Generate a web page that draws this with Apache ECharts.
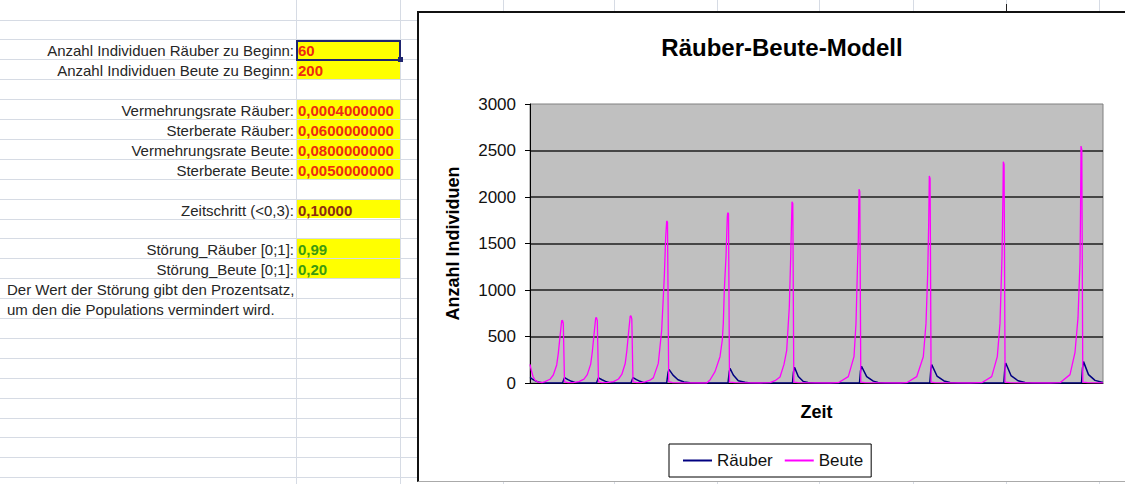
<!DOCTYPE html>
<html>
<head>
<meta charset="utf-8">
<script src="https://cdn.jsdelivr.net/npm/echarts@6/dist/echarts.min.js"></script>
<style>
  html, body { margin: 0; padding: 0; background: #fff; }
  body { width: 1125px; height: 484px; position: relative; overflow: hidden;
         font-family: 'Liberation Sans', Arial, sans-serif; }
  .hl { position: absolute; left: 0; width: 1125px; height: 1px; background: #d6dbe4; }
  .vl { position: absolute; top: 0; width: 1px; height: 484px; background: #d6dbe4; }
  .cell-y { position: absolute; left: 297px; width: 103px; background: #ffff00; }
  .lab { position: absolute; left: 0; width: 294px; text-align: right; font-size: 15px;
         color: #262626; white-space: nowrap; }
  .val { position: absolute; left: 298px; font-size: 15px; font-weight: bold; white-space: nowrap; }
  .note { position: absolute; left: 7px; font-size: 15px; color: #262626; white-space: nowrap; }
  #frame { position: absolute; left: 417px; top: 11px; width: 708px; height: 471px;
           box-sizing: border-box; background: #fff;
           border-left: 2px solid #111; border-top: 2px solid #111; border-bottom: 1px solid #aaa; }
  #chart { position: absolute; left: 419px; top: 13px; width: 706px; height: 469px; }
</style>
</head>
<body>
<div id="sheet"></div>
<div id="frame"></div>
<div id="chart"></div>
<script>
// ---- Spreadsheet inputs (left part) ----
const RED = '#ee2a10', BROWN = '#8b2a10', GREEN = '#3c9a0e';
const inputRows   = [2, 3, 5, 6, 7, 8, 10, 12, 13];
const inputLabels = ['Anzahl Individuen Räuber zu Beginn:', 'Anzahl Individuen Beute zu Beginn:',
  'Vermehrungsrate Räuber:', 'Sterberate Räuber:', 'Vermehrungsrate Beute:', 'Sterberate Beute:',
  'Zeitschritt (<0,3):', 'Störung_Räuber [0;1]:', 'Störung_Beute [0;1]:'];
const inputValues = ['60', '200', '0,0004000000', '0,0600000000', '0,0800000000', '0,0050000000',
  '0,10000', '0,99', '0,20'];
const inputColors = [RED, RED, RED, RED, RED, RED, BROWN, GREEN, GREEN];
const noteRows  = [14, 15];
const noteLines = ['Der Wert der Störung gibt den Prozentsatz,', 'um den die Populations vermindert wird.'];

// ---- Chart data: [Zeit, Anzahl] ----
const raeuber = [
  [0, 60], [0.4, 45], [1.0, 25], [1.6, 12], [2.4, 4], [3.2, 1],
  [6.5, 1], [6.7, 30], [6.9, 57], [7.6, 36], [8.3, 18], [9.0, 6], [10, 1],
  [13.3, 1], [13.5, 30], [13.7, 55], [14.4, 35], [15.1, 17], [15.8, 5], [16.8, 1],
  [20.2, 1], [20.4, 30], [20.6, 58], [21.3, 37], [22.0, 18], [22.7, 5], [23.7, 1],
  [27.34, 1], [27.6, 110], [27.8, 147], [28.6, 85], [29.6, 35], [30.8, 10], [32, 3], [34, 1],
  [39.6, 1], [39.85, 120], [40.0, 158], [40.66, 86], [41.66, 25], [43, 7], [44, 1],
  [52.5, 1], [52.7, 120], [52.9, 170], [53.66, 69], [54.66, 16], [55.6, 5], [57, 1],
  [65.9, 1], [66.1, 130], [66.3, 180], [67.34, 68], [68.66, 20], [69.6, 5], [71, 1],
  [79.96, 1], [80.16, 140], [80.34, 197], [81.4, 75], [82.8, 22], [84, 5], [85.5, 1],
  [94.76, 1], [94.96, 150], [95.14, 215], [96.2, 80], [97.6, 24], [99, 5], [100.5, 1],
  [110.3, 1], [110.5, 160], [110.7, 230], [111.7, 90], [113, 28], [114.6, 6]
];
const beute = [
  [0, 200], [0.2, 150], [0.6, 70], [1.0, 30], [1.6, 10], [2.4, 4],
  [3.0, 14], [4.0, 40], [4.66, 86], [5.34, 194], [5.66, 319], [6.0, 498], [6.34, 670], [6.5, 672], [6.66, 640], [6.9, 12], [7.6, 4], [8.6, 3],
  [9.8, 14], [10.8, 42], [11.46, 90], [12.14, 203], [12.46, 333], [12.8, 520], [13.14, 700], [13.3, 702], [13.46, 670], [13.7, 12], [14.4, 4], [15.3, 3],
  [16.7, 15], [17.7, 43], [18.36, 92], [19.04, 209], [19.36, 343], [19.7, 535], [20.04, 720], [20.2, 722], [20.36, 690], [20.6, 12], [21.3, 4], [22.2, 3],
  [23.0, 12], [24.0, 30], [24.66, 55], [25.66, 211], [26.34, 570], [26.86, 1143], [27.14, 1573], [27.34, 1742], [27.5, 1730], [27.74, 15], [28.5, 4], [30, 1], [34, 0],
  [35.34, 0], [36.0, 32], [37.0, 122], [38.0, 283], [38.46, 462], [38.66, 641], [38.86, 1000], [39.2, 1358], [39.46, 1788], [39.54, 1831], [39.7, 1820], [39.9, 10], [41, 3], [43, 1], [46, 0],
  [47, 2], [48.0, 5], [49.0, 25], [50.0, 64], [50.8, 200], [51.34, 351], [51.86, 817], [52.14, 1354], [52.4, 1950], [52.56, 1930], [52.76, 10], [53.6, 3], [56, 1], [60, 0],
  [61.66, 3], [63.66, 68], [64.8, 283], [65.2, 641], [65.46, 1179], [65.66, 1537], [65.8, 2083], [65.96, 2060], [66.16, 10], [67, 3], [70, 1], [74, 0],
  [75.34, 3], [77.34, 68], [78.66, 283], [79.2, 641], [79.54, 1179], [79.74, 1716], [79.86, 2226], [80.02, 2200], [80.22, 10], [81, 3], [84, 1], [88, 0],
  [90.34, 3], [92.34, 68], [93.46, 283], [94.0, 641], [94.4, 1358], [94.6, 2060], [94.66, 2380], [94.82, 2350], [95.02, 10], [96, 3], [99, 1], [104, 0],
  [106.0, 3], [108.0, 90], [109.0, 330], [109.6, 700], [110.0, 1300], [110.1, 1800], [110.2, 2548], [110.36, 2510], [110.56, 10], [111.5, 3], [114.6, 1]
];
const yMin = 0, yMax = 3000, yStep = 500;
const zeitMax = 114.6;

// ---- Build the spreadsheet grid ----
const sheet = document.getElementById('sheet');
const lineY = k => 19.5 + 19.9 * k;
function add(cls, css, text) {
  const d = document.createElement('div');
  d.className = cls;
  Object.assign(d.style, css);
  if (text !== undefined) d.textContent = text;
  sheet.appendChild(d);
  return d;
}
for (let k = 0; k < 24; k++) add('hl', { top: Math.round(lineY(k)) + 'px' });
[296, 400, 503, 614, 717, 819, 913, 1006, 1099].forEach(x => add('vl', { left: x + 'px' }));
add('vl', { left: '1006px', top: '4px', height: '7px', background: '#222' });

function rowBox(r) {
  const top = lineY(r - 1), bottom = lineY(r);
  return { top: (top + 1) + 'px', height: (bottom - top - 1) + 'px' };
}
inputRows.forEach((r, i) => {
  add('cell-y', rowBox(r));
  const txt = { top: (lineY(r - 1) + 2) + 'px', lineHeight: '19px' };
  add('lab', txt, inputLabels[i]);
  add('val', Object.assign({ color: inputColors[i] }, txt), inputValues[i]);
});
noteRows.forEach((r, i) => add('note', { top: (lineY(r - 1) + 2) + 'px', lineHeight: '19px' }, noteLines[i]));
// active cell outline with fill handle
add('', { position: 'absolute', left: '296px', top: '40px', width: '105px', height: '21px',
          boxSizing: 'border-box', border: '2.5px solid #1f2570' });
add('', { position: 'absolute', left: '398px', top: '57px', width: '5px', height: '5px', background: '#1f2570' });

// ---- Chart ----
const FONT = "'Liberation Sans', Arial, sans-serif";
const chart = echarts.init(document.getElementById('chart'), null, { renderer: 'svg' });
chart.setOption({
  animation: false,
  backgroundColor: 'transparent',
  title: {
    text: 'Räuber-Beute-Modell',
    left: 358, top: 17, textAlign: 'center',
    textStyle: { fontFamily: FONT, fontWeight: 'bold', fontSize: 24, color: '#000' }
  },
  grid: {
    left: 111, top: 91, width: 573, height: 279,
    show: true, backgroundColor: '#c0c0c0', borderColor: '#808080', borderWidth: 1
  },
  xAxis: {
    type: 'value', min: 0, max: zeitMax,
    name: 'Zeit', nameLocation: 'middle', nameGap: 20,
    nameTextStyle: { fontFamily: FONT, fontWeight: 'bold', fontSize: 18, color: '#000' },
    axisLine: { show: true, lineStyle: { color: '#000', width: 1 } },
    axisTick: { show: false }, axisLabel: { show: false }, splitLine: { show: false }
  },
  yAxis: {
    type: 'value', min: yMin, max: yMax, interval: yStep,
    name: 'Anzahl Individuen', nameLocation: 'middle', nameGap: 68,
    nameTextStyle: { fontFamily: FONT, fontWeight: 'bold', fontSize: 18, color: '#000' },
    axisLine: { show: true, lineStyle: { color: '#000', width: 1 } },
    axisTick: { show: true, length: 5, lineStyle: { color: '#000' } },
    axisLabel: { fontFamily: FONT, fontSize: 17, color: '#111', margin: 14, formatter: v => String(v) },
    splitLine: { show: true, showMinLine: false, showMaxLine: false, lineStyle: { color: '#1e1e1e', width: 1.5 } }
  },
  legend: {
    data: ['Räuber', 'Beute'],
    left: 250, top: 431,
    icon: 'rect',
    backgroundColor: '#fff', borderColor: '#000', borderWidth: 1,
    padding: [8, 8, 8, 14], itemGap: 12, itemWidth: 29, itemHeight: 2,
    textStyle: { fontFamily: FONT, fontSize: 17, color: '#111' }
  },
  series: [
    { name: 'Räuber', type: 'line', data: raeuber, symbol: 'none', showSymbol: false,
      lineStyle: { color: '#000080', width: 1.5 }, itemStyle: { color: '#000080' } },
    { name: 'Beute', type: 'line', data: beute, symbol: 'none', showSymbol: false,
      lineStyle: { color: '#ff00ff', width: 1.3 }, itemStyle: { color: '#ff00ff' } }
  ]
});
</script>
</body>
</html>
